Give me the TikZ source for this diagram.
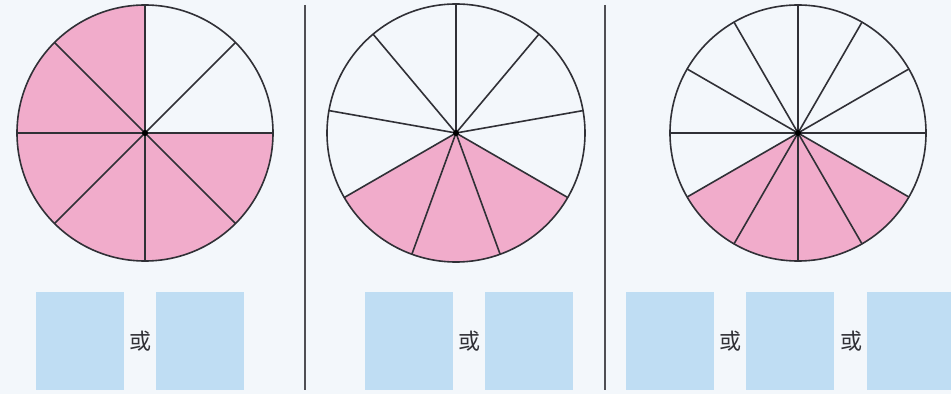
\documentclass[tikz,border=0pt]{standalone}
\usepackage{fontspec}
\newfontfamily\cjk{Noto Sans CJK SC}
\usetikzlibrary{positioning}

\definecolor{pagebg}{RGB}{243,247,251}
\definecolor{piepink}{RGB}{241,172,203}
\definecolor{boxblue}{RGB}{191,221,243}
\definecolor{inkgray}{RGB}{48,48,54}

\begin{document}
\begin{tikzpicture}[
  x=1pt, y=1pt,
  pie/.style={draw=inkgray, line width=1.6pt},
  ansbox/.style={fill=boxblue, minimum width=88pt, minimum height=98pt, inner sep=0pt},
  orlbl/.style={font=\cjk\fontsize{22}{22}\selectfont, text=inkgray, inner sep=0pt},
  sep/.style={draw=inkgray!85, line width=1.8pt}
]
\fill[pagebg] (0,0) rectangle (951,394);
\useasboundingbox (0,0) rectangle (951,394);

% panel separators
\coordinate (s1t) at (305,389); \coordinate (s1b) at (305,4);
\coordinate (s2t) at (605,389); \coordinate (s2b) at (605,4);
\draw[sep] (s1t) -- (s1b);
\draw[sep] (s2t) -- (s2b);

% circle in eighths
\coordinate (c1) at (145,261);
\fill[piepink] (c1) -- ++(90:128) arc[start angle=90, end angle=360, radius=128] -- cycle;
\foreach \a in {0,45,...,315}
  \draw[pie] (c1) -- ++(\a:128);
\draw[pie] (c1) circle[radius=128];
\fill[black] (c1) circle[radius=3];

% circle in ninths
\coordinate (c2) at (456,261);
\fill[piepink] (c2) -- ++(210:129) arc[start angle=210, end angle=330, radius=129] -- cycle;
\foreach \i in {0,...,8}
  \draw[pie] (c2) -- ++({90+40*\i}:129);
\draw[pie] (c2) circle[radius=129];
\fill[black] (c2) circle[radius=3];

% circle in twelfths
\coordinate (c3) at (798,261);
\fill[piepink] (c3) -- ++(210:128) arc[start angle=210, end angle=330, radius=128] -- cycle;
\foreach \a in {0,30,...,330}
  \draw[pie] (c3) -- ++(\a:128);
\draw[pie] (c3) circle[radius=128];
\fill[black] (c3) circle[radius=3];

% answer boxes
\node[ansbox] (a1) at (80,53) {};
\node[ansbox, right=32pt of a1] (a2) {};
\node[orlbl] (or1) at (140,53) {或};

\node[ansbox] (b1) at (409,53) {};
\node[ansbox, right=32pt of b1] (b2) {};
\node[orlbl] (or2) at (469,53) {或};

\node[ansbox] (d1) at (670,53) {};
\node[ansbox, right=32pt of d1] (d2) {};
\node[ansbox, right=32pt of d2] (d3) {};
\node[orlbl] (or3) at (730,53) {或};
\node[orlbl] (or4) at (851,53) {或};
\end{tikzpicture}
\end{document}
